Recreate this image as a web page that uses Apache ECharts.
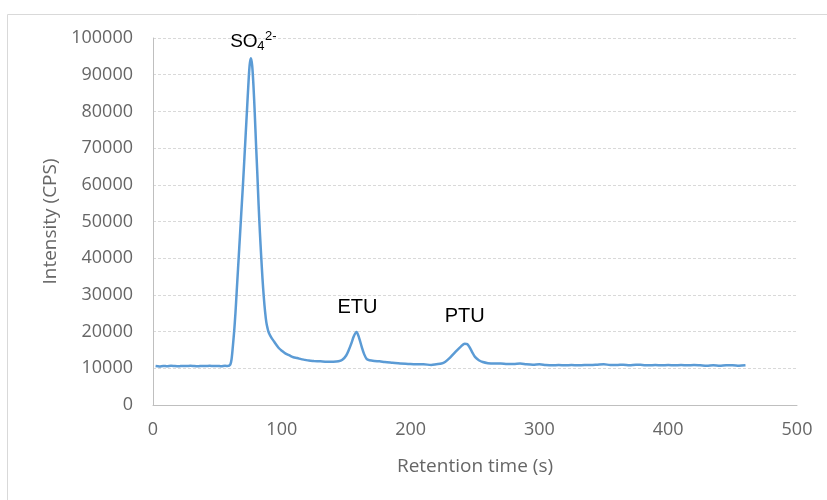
<!DOCTYPE html>
<html>
<head>
<meta charset="utf-8">
<script src="https://cdn.jsdelivr.net/npm/echarts@6/dist/echarts.min.js"></script>
<style>html,body{margin:0;padding:0;background:#fff}#c{width:827px;height:500px}</style>
</head>
<body>
<div id="c"></div>
<script>
const retentionTime = [2,5,8,11,14,17,20,23,26,29,32,35,38,41,44,47,50,53,56,58,60,61,62,63,64,65,66,67,68,69,70,71,72,73,74,75,76,77,78,79,80,81,82,83,84,85,86,87,88,89,90,92,94,96,98,100,103,106,109,112,115,118,121,125,130,135,140,144,147,150,152,154,156,158,160,162,164,166,168,172,176,180,186,192,198,204,210,216,220,224,227,230,233,236,239,242,244,246,248,250,253,256,260,265,270,275,280,285,290,295,300,305,310,315,320,325,330,335,340,345,350,355,360,365,370,375,380,385,390,395,400,405,410,415,420,425,430,435,440,445,450,455,460];
const intensity = [10600,10500,10650,10550,10700,10600,10550,10650,10600,10700,10600,10550,10650,10600,10700,10600,10650,10550,10700,10600,11000,12500,16000,20000,25000,31000,37000,43000,49000,55000,61000,67500,74000,80500,87000,92500,94500,92500,87000,79500,71000,63000,54500,47000,40500,34500,29500,25500,22500,20800,19600,18300,17300,16300,15400,14800,14000,13500,13000,12800,12500,12300,12100,12000,11900,11800,11800,11900,12300,13500,15000,16800,18800,19900,18300,15900,13800,12500,12200,12000,11900,11700,11500,11300,11200,11100,11100,10900,11100,11300,11800,12700,13800,14900,15900,16700,16600,15600,14300,13100,12200,11700,11400,11300,11300,11200,11200,11300,11100,11000,11100,10900,10800,10900,10800,10900,10800,10900,10900,11000,11100,10900,10900,11000,10800,11000,10900,10800,10900,10800,10900,10800,10900,10800,10900,10800,10700,10800,10700,10800,10800,10700,10800];
const xTicks = [0,100,200,300,400,500];
const yTicks = [0,10000,20000,30000,40000,50000,60000,70000,80000,90000,100000];
const peakLabels = [
  {name:'SO4', coord:[76,94500]},
  {name:'ETU', coord:[158,19900]},
  {name:'PTU', coord:[242,16700]}
];

const chart = echarts.init(document.getElementById('c'), null, {renderer:'canvas'});
const mkLabel = (text, off, size) => ({
  show:true, position:'inside', formatter:text, offset:off,
  fontFamily:'Liberation Sans', fontSize:size, color:'#000'
});
const axisFont = {fontFamily:'Open Sans', fontSize:18, color:'#666'};
chart.setOption({
  animation:false,
  graphic:[{type:'rect', shape:{x:7.5,y:14.5,width:900,height:600}, style:{fill:'none',stroke:'#d9d9d9',lineWidth:1}, silent:true}],
  grid:{left:153,right:30,top:38,bottom:95},
  xAxis:{type:'value', min:xTicks[0], max:xTicks[xTicks.length-1], interval:100,
    name:'Retention time (s)', nameLocation:'middle', nameGap:52,
    nameTextStyle:{fontFamily:'Open Sans', fontSize:19, color:'#666'},
    axisLine:{lineStyle:{color:'#bfbfbf',width:1}}, axisTick:{show:false},
    axisLabel:Object.assign({margin:16, formatter:v=>String(v)}, axisFont),
    splitLine:{show:false}},
  yAxis:{type:'value', min:yTicks[0], max:yTicks[yTicks.length-1], interval:10000,
    name:'Intensity (CPS)', nameLocation:'middle', nameGap:90, nameRotate:90,
    nameTextStyle:{fontFamily:'Open Sans', fontSize:19, color:'#666'},
    axisLine:{show:true, lineStyle:{color:'#bfbfbf',width:1}}, axisTick:{show:false},
    axisLabel:Object.assign({margin:20, formatter:v=>String(v)}, axisFont),
    splitLine:{lineStyle:{color:'#d9d9d9', type:[3,2], width:1}}},
  series:[{
    type:'line', data:retentionTime.map((t,i)=>[t,intensity[i]]),
    showSymbol:false, smooth:0.3,
    lineStyle:{color:'#5b9bd5', width:2.5},
    markPoint:{symbol:'circle', symbolSize:0, silent:true,
      data:[
        {coord:peakLabels[0].coord, label:mkLabel('SO',[-7,-16],19)},
        {coord:peakLabels[0].coord, label:mkLabel('4',[10,-12],13)},
        {coord:peakLabels[0].coord, label:mkLabel('2-',[20,-22],13)},
        {coord:peakLabels[1].coord, label:mkLabel(peakLabels[1].name,[1,-24],20)},
        {coord:peakLabels[2].coord, label:mkLabel(peakLabels[2].name,[0,-27],20)}
      ]}
  }]
});
</script>
</body>
</html>
